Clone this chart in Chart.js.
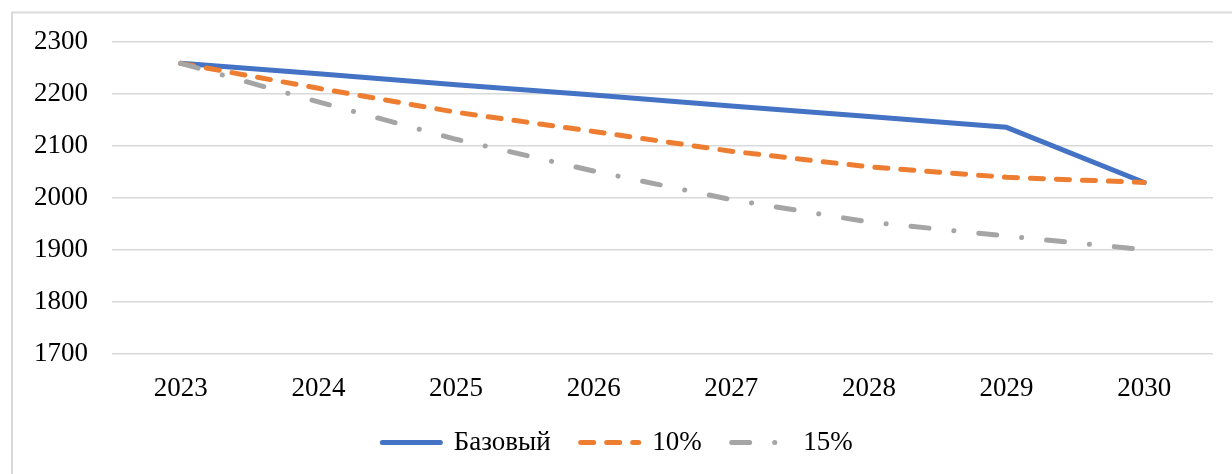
<!DOCTYPE html>
<html>
<head>
<meta charset="utf-8">
<script src="https://cdn.jsdelivr.net/npm/chart.js@4/dist/chart.umd.min.js"></script>
<style>
  html, body { margin: 0; padding: 0; background: #fff; }
  canvas { display: block; }
</style>
</head>
<body>
<canvas id="chart" width="1232" height="474"></canvas>
<script>
// Years on the horizontal axis
const years = ['2023', '2024', '2025', '2026', '2027', '2028', '2029', '2030'];

// Scenario series
const baseScenario = [2258, 2238, 2217, 2197, 2176, 2156, 2135, 2029];
const scenario10 = [2258, 2210, 2164, 2127, 2089, 2059, 2039, 2029];
const scenario15 = [2258, 2184, 2112, 2051, 1996, 1953, 1926, 1900];

// Series names shown in the legend
const seriesNames = ['Базовый', '10%', '15%'];

// Vertical axis range
const yMin = 1700;
const yMax = 2300;
const yStep = 100;

const FONT = "'Liberation Serif', 'Times New Roman', serif";
const FONT_SIZE = 27;

// White background plus the thin outer frame
const framePlugin = {
  id: 'frame',
  beforeDraw(chart) {
    const ctx = chart.ctx;
    ctx.save();
    ctx.fillStyle = '#ffffff';
    ctx.fillRect(0, 0, chart.width, chart.height);
    ctx.strokeStyle = '#d9d9d9';
    ctx.lineWidth = 2;
    ctx.strokeRect(12, 12.5, 1240, 480);
    ctx.restore();
  }
};

// Center the legend on the whole canvas rather than on the padded area
const legendShift = {
  id: 'legendShift',
  afterLayout(chart) {
    const lg = chart.legend;
    if (lg) { lg.left += 6; lg.right += 6; }
  }
};

new Chart(document.getElementById('chart'), {
  type: 'line',
  data: {
    labels: years,
    datasets: [
      {
        label: seriesNames[0],
        data: baseScenario,
        borderColor: '#4472C4',
        backgroundColor: '#4472C4',
        borderWidth: 5,
        borderCapStyle: 'round',
        borderJoinStyle: 'round',
        pointRadius: 0,
        tension: 0,
        order: 3
      },
      {
        label: seriesNames[1],
        data: scenario10,
        borderColor: '#ED7D31',
        backgroundColor: '#ED7D31',
        borderWidth: 5,
        borderDash: [13, 13],
        borderCapStyle: 'round',
        borderJoinStyle: 'round',
        pointRadius: 0,
        tension: 0,
        order: 2
      },
      {
        label: seriesNames[2],
        data: scenario15,
        borderColor: '#A5A5A5',
        backgroundColor: '#A5A5A5',
        borderWidth: 5,
        borderDash: [18, 25, 0.1, 25],
        borderCapStyle: 'round',
        borderJoinStyle: 'round',
        pointRadius: 0,
        tension: 0,
        order: 1
      }
    ]
  },
  options: {
    responsive: false,
    animation: false,
    devicePixelRatio: 1,
    layout: { padding: { left: 10, right: 19, top: 41.5, bottom: 8 } },
    scales: {
      x: {
        offset: true,
        grid: { display: false, drawTicks: false },
        border: { display: false },
        ticks: {
          color: '#000',
          padding: 19,
          maxRotation: 0,
          font: { family: FONT, size: FONT_SIZE }
        },
        // let the tick labels sit closer to the legend
        afterFit(scale) { scale.height -= 25; }
      },
      y: {
        min: yMin,
        max: yMax,
        grid: { color: '#d9d9d9', lineWidth: 1.5, drawTicks: false },
        border: { display: false },
        ticks: {
          stepSize: yStep,
          color: '#000',
          padding: 24,
          font: { family: FONT, size: FONT_SIZE },
          callback: (v) => String(v)
        }
      }
    },
    plugins: {
      tooltip: { enabled: false },
      legend: {
        position: 'bottom',
        labels: {
          usePointStyle: true,
          pointStyle: 'line',
          pointStyleWidth: 58,
          padding: 30,
          color: '#000',
          font: { family: FONT, size: FONT_SIZE },
          generateLabels(chart) {
            return chart.data.datasets.map((ds, i) => ({
              text: ds.label,
              datasetIndex: i,
              hidden: !chart.isDatasetVisible(i),
              strokeStyle: ds.borderColor,
              fillStyle: ds.borderColor,
              lineWidth: ds.borderWidth,
              lineDash: ds.borderDash || [],
              lineCap: 'round',
              lineJoin: 'round',
              pointStyle: 'line',
              fontColor: '#000'
            }));
          }
        }
      }
    }
  },
  plugins: [framePlugin, legendShift]
});
</script>
</body>
</html>
